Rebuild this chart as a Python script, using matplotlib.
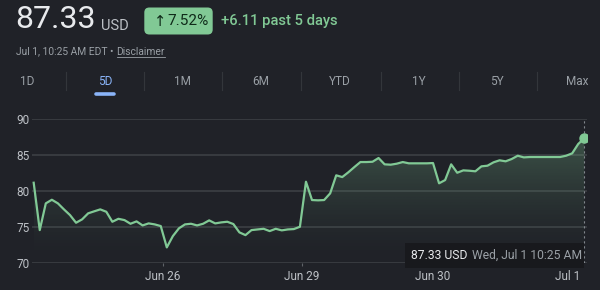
import numpy as np
import matplotlib
matplotlib.use("Agg")
import matplotlib.pyplot as plt
from matplotlib.patches import FancyBboxPatch, Rectangle
from matplotlib.lines import Line2D

# ---------------- data ----------------
prices_jun25 = [81.13, 74.54, 78.26, 78.76, 78.26, 77.42, 76.63, 75.56, 76.03, 76.87, 77.15,
                77.42, 77.09, 75.70, 76.11, 75.93, 75.42, 75.75, 75.19, 75.47, 75.33, 75.10]
prices_jun26 = [72.13, 73.70, 74.78, 75.33, 75.42, 75.19, 75.42, 75.89, 75.47, 75.61, 75.70, 75.38,
                74.22, 73.84, 74.54, 74.63, 74.72, 74.40, 74.72, 74.50, 74.63, 74.68, 75.00]
prices_jun29 = [81.27, 78.72, 78.68, 78.72, 79.65, 82.16, 81.92, 82.58, 83.31, 84.01, 84.01,
                84.05, 84.57, 83.69, 83.64, 83.78, 84.01, 83.83, 83.83, 83.83, 83.83, 83.87]
prices_jun30 = [81.05, 81.50, 83.69, 82.52, 82.85, 82.80, 82.72, 83.41, 83.50, 83.97, 84.25,
                84.11, 84.43, 84.89, 84.66, 84.71, 84.71, 84.71, 84.71, 84.71, 84.71, 84.89]
prices_jul01 = [85.22, 86.52, 87.33]
prices = prices_jun25 + prices_jun26 + prices_jun29 + prices_jun30 + prices_jul01

x_tick_labels = ["Jun 26", "Jun 29", "Jun 30", "Jul 1"]
x_tick_pos = [21.4, 44.3, 65.9, 88.3]
y_ticks = [70, 75, 80, 85, 90]
tabs = ["1D", "5D", "1M", "6M", "YTD", "1Y", "5Y", "Max"]

# ---------------- style ----------------
BG = "#202228"
GREEN = "#81c995"
GRID = "#3a3d42"
GREY = "#9aa0a6"
LIGHT = "#bdc1c6"
FONT = ["Roboto", "DejaVu Sans"]
plt.rcParams["font.family"] = FONT

W, H = 600, 290
fig = plt.figure(figsize=(W / 100, H / 100), dpi=100, facecolor=BG)
T = fig.dpi_scale_trans


def P(x, y):
    return x / 100, (H - y) / 100


# ---------------- chart ----------------
L, R, TOP, BOT = 31.7, 587, 119, 262.7
ax = fig.add_axes([L / W, 1 - BOT / H, (R - L) / W, (BOT - TOP) / H])
ax.set_facecolor(BG)
for s in ax.spines.values():
    s.set_visible(False)

x = np.arange(len(prices))
ax.set_xlim(-0.33, 91.45)
ax.set_ylim(70, 90)

for yv in y_ticks:
    ax.axhline(yv, color=GRID, lw=1.3, zorder=1)

# gradient fill under the line
ny = 200
yy = np.linspace(70, 90, ny)
alpha = 0.30 * np.clip((yy - 70) / 17.5, 0, 1) ** 1.6
rgb = matplotlib.colors.to_rgb(GREEN)
img = np.zeros((ny, 2, 4))
img[..., 0], img[..., 1], img[..., 2] = rgb
img[..., 3] = alpha[:, None]
poly = ax.fill_between(x, prices, 70, color="none", lw=0)
im = ax.imshow(img, extent=[x[0], x[-1], 70, 90], origin="lower", aspect="auto", zorder=2)
im.set_clip_path(poly.get_paths()[0], transform=ax.transData)

ax.plot(x, prices, color=GREEN, lw=1.6, zorder=4, solid_joinstyle="round")
ax.plot([x[-1]], [prices[-1]], "o", color=GREEN, ms=6.5, zorder=5)
ax.plot([x[-1], x[-1]], [70, 90], color=GREY, lw=0.8, ls=(0, (2, 2.5)), zorder=3, alpha=0.8)

ax.set_yticks(y_ticks)
ax.set_yticklabels([str(v) for v in y_ticks])
ax.set_xticks(x_tick_pos)
ax.set_xticklabels(x_tick_labels)
ax.tick_params(axis="y", length=0, pad=1.5, labelsize=8.5, labelcolor=LIGHT)
ax.tick_params(axis="x", length=2.5, width=0.8, color="#5f6368", pad=3, labelsize=8.5,
               labelcolor=LIGHT)

# ---------------- header ----------------
fig.text(*P(15.5, 20), "87.33", transform=T, fontsize=23, color="#e8eaed", va="center",
         ha="left")
fig.text(*P(101, 26.5), "USD", transform=T, fontsize=10.5, color=LIGHT, va="center", ha="left")

bx0, by0, bx1, by1 = 144.3, 7.5, 212.7, 34.5
badge = FancyBboxPatch(((bx0 + 4) / 100, (H - by1 + 4) / 100),
                       (bx1 - bx0 - 8) / 100, (by1 - by0 - 8) / 100,
                       boxstyle="round,pad=0.04,rounding_size=0.05",
                       transform=T, facecolor=GREEN, edgecolor="none")
fig.patches.append(badge)
fig.text(*P(154, 21), "↑", transform=T, fontsize=10.5, color="#0f2a19", va="center",
         ha="left", family=["DejaVu Sans"])
fig.text(*P(167.5, 21), "7.52%", transform=T, fontsize=11, color="#0f2a19", va="center",
         ha="left")
fig.text(*P(221, 21), "+6.11 past 5 days", transform=T, fontsize=10.6, color=GREEN,
         va="center", ha="left", fontweight="medium")

# date line with underlined "Disclaimer"
pre = fig.text(*P(16.5, 51.5), "Jul 1, 10:25 AM EDT • ", transform=T, fontsize=7.4,
               color=GREY, va="center", ha="left")
fig.canvas.draw()
bb = pre.get_window_extent(renderer=fig.canvas.get_renderer())
disc = fig.text(bb.x1 / 100, (H - 51.5) / 100, "Disclaimer", transform=T, fontsize=7.4,
                color=GREY, va="center", ha="left")
fig.canvas.draw()
bd = disc.get_window_extent(renderer=fig.canvas.get_renderer())
fig.add_artist(Line2D([bd.x0 / 100, bd.x1 / 100], [(H - 56.5) / 100] * 2, transform=T,
                      color=GREY, lw=0.6))

# ---------------- tabs ----------------
tab_x = [26.7, 105, 182.7, 260.5, 340, 419, 497, 577]
sep_x = [65.7, 144, 222, 300.7, 380.5, 458.5, 536.5]
for lab, tx in zip(tabs, tab_x):
    fig.text(*P(tx, 81.7), lab, transform=T, fontsize=8.5, va="center", ha="center",
             color="#8ab4f8" if lab == "5D" else GREY)
for sx in sep_x:
    fig.add_artist(Line2D([sx / 100] * 2, [(H - 72) / 100, (H - 90) / 100], transform=T,
                          color="#33363b", lw=0.8))
fig.add_artist(Line2D([0.96, 1.14], [(H - 94) / 100] * 2, transform=T, color="#8ab4f8",
                      lw=2.6, solid_capstyle="round"))

# ---------------- tooltip ----------------
tip = Rectangle(P(405, 268.3), (584 - 405) / 100, (268.3 - 243.3) / 100, transform=T,
                facecolor="#18191d", edgecolor="none", zorder=10)
fig.add_artist(tip)
fig.text(*P(410.7, 255.7), "87.33 USD", transform=T, fontsize=8.7, color="#e8eaed",
         va="center", ha="left", zorder=11)
fig.text(*P(472, 255.7), "Wed, Jul 1 10:25 AM", transform=T, fontsize=8.7, color=GREY,
         va="center", ha="left", zorder=11)

fig.savefig("out.png", dpi=100, facecolor=BG)
